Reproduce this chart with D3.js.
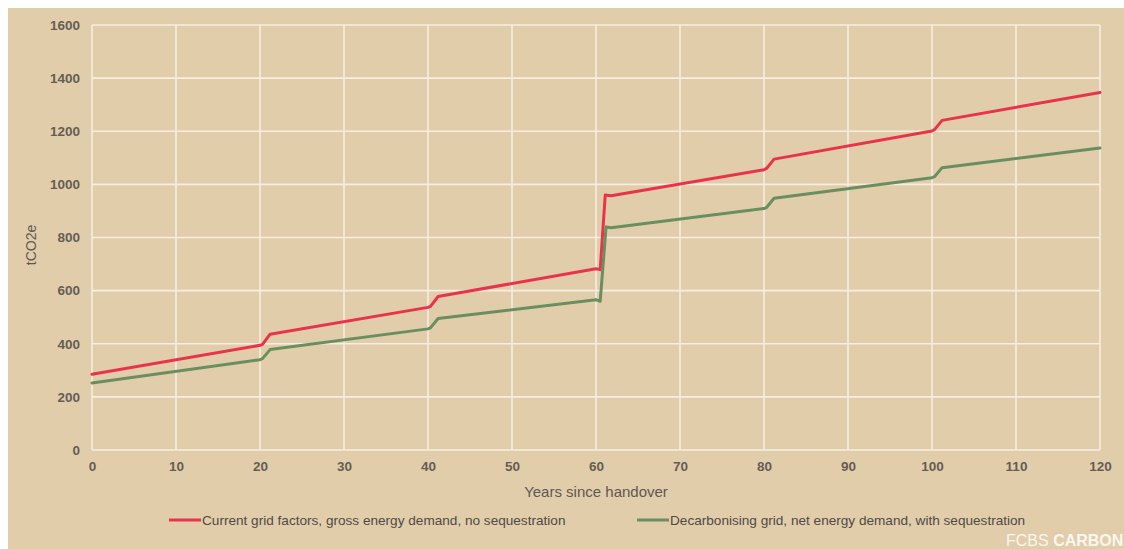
<!DOCTYPE html>
<html>
<head>
<meta charset="utf-8">
<script src="https://cdn.jsdelivr.net/npm/d3@7"></script>
<style>
  html, body { margin: 0; padding: 0; background: #ffffff; }
  svg { display: block; font-family: "Liberation Sans", Arial, sans-serif; }
</style>
</head>
<body>
<svg id="chart" width="1124" height="549"></svg>
<script>
// Cumulative emissions (tCO2e) by years since handover
const currentGridYears  = [0, 20, 20.3, 21.2, 40, 40.3, 41.2, 60, 60.5, 61.1, 61.8, 80, 80.3, 81.2, 100, 100.3, 101.2, 120];
const currentGridValues = [285, 394, 398, 436, 537, 541, 578, 682, 679, 960, 957, 1055, 1060, 1095, 1201, 1206, 1241, 1346];

const decarbYears  = [0, 20, 20.3, 21.2, 40, 40.3, 41.2, 60, 60.5, 61.2, 61.8, 80, 80.3, 81.2, 100, 100.3, 101.2, 120];
const decarbValues = [252, 340, 344, 378, 456, 460, 495, 566, 560, 840, 837, 909, 913, 948, 1025, 1029, 1063, 1137];

const xTicks = [0, 10, 20, 30, 40, 50, 60, 70, 80, 90, 100, 110, 120];
const yTicks = [0, 200, 400, 600, 800, 1000, 1200, 1400, 1600];

const seriesNames = [
  "Current grid factors, gross energy demand, no sequestration",
  "Decarbonising grid, net energy demand, with sequestration"
];
const seriesColors = ["#e8334a", "#6a8f5f"];

const svg = d3.select("#chart");
const W = 1124, H = 549;

// panel background
svg.append("rect")
  .attr("x", 8).attr("y", 8)
  .attr("width", W - 8).attr("height", H - 8)
  .attr("fill", "#e2cdab");

const margin = { left: 92, right: 24, top: 25, bottom: 99 };
const x = d3.scaleLinear().domain([0, 120]).range([margin.left, W - margin.right]);
const y = d3.scaleLinear().domain([0, 1600]).range([H - margin.bottom, margin.top]);

// grid
const grid = svg.append("g").attr("stroke", "#f6eee2").attr("stroke-width", 1.6);
grid.selectAll("line.v").data(xTicks).join("line")
  .attr("x1", d => x(d)).attr("x2", d => x(d))
  .attr("y1", y(0)).attr("y2", y(1600));
grid.selectAll("line.h").data(yTicks).join("line")
  .attr("y1", d => y(d)).attr("y2", d => y(d))
  .attr("x1", x(0)).attr("x2", x(120));

// axes (labels only)
const tickColor = "#655d55";
const yAxis = svg.append("g")
  .attr("transform", `translate(${margin.left},0)`)
  .call(d3.axisLeft(y).tickValues(yTicks).tickSize(0).tickPadding(12).tickFormat(d3.format("d")));
yAxis.select(".domain").remove();
yAxis.selectAll("text")
  .attr("fill", tickColor).attr("font-size", 13.5).attr("font-weight", "bold")
  .attr("font-family", "Liberation Sans, Arial, sans-serif");

const xAxis = svg.append("g")
  .attr("transform", `translate(0,${y(0)})`)
  .call(d3.axisBottom(x).tickValues(xTicks).tickSize(0).tickPadding(11).tickFormat(d3.format("d")));
xAxis.select(".domain").remove();
xAxis.selectAll("text")
  .attr("fill", tickColor).attr("font-size", 13.5).attr("font-weight", "bold")
  .attr("font-family", "Liberation Sans, Arial, sans-serif");

// axis titles
svg.append("text")
  .attr("x", x(60)).attr("y", 497)
  .attr("text-anchor", "middle")
  .attr("font-size", 15).attr("fill", "#5e5852")
  .text("Years since handover");

svg.append("text")
  .attr("transform", `translate(36,245) rotate(-90)`)
  .attr("text-anchor", "middle")
  .attr("font-size", 14).attr("fill", "#5e5852")
  .text("tCO2e");

// lines
const line = d3.line().x(d => x(d[0])).y(d => y(d[1]));
const series = [
  d3.zip(currentGridYears, currentGridValues),
  d3.zip(decarbYears, decarbValues)
];
svg.append("g").selectAll("path").data(series).join("path")
  .attr("d", line)
  .attr("fill", "none")
  .attr("stroke", (d, i) => seriesColors[i])
  .attr("stroke-width", 3)
  .attr("stroke-linejoin", "round")
  .attr("stroke-linecap", "round");

// legend
const legendPos = [169, 637];
const legend = svg.append("g");
seriesNames.forEach((name, i) => {
  legend.append("line")
    .attr("x1", legendPos[i]).attr("x2", legendPos[i] + 32)
    .attr("y1", 520).attr("y2", 520)
    .attr("stroke", seriesColors[i]).attr("stroke-width", 3);
  legend.append("text")
    .attr("x", legendPos[i] + 33).attr("y", 525)
    .attr("font-size", 13.6).attr("fill", "#4f4a45")
    .text(name);
});

// brand mark
const brand = svg.append("text")
  .attr("x", 1006).attr("y", 546)
  .attr("font-size", 16).attr("fill", "#ffffff").attr("fill-opacity", 0.85);
brand.append("tspan").text("FCBS ");
brand.append("tspan").attr("font-weight", "bold").text("CARBON");
</script>
</body>
</html>
